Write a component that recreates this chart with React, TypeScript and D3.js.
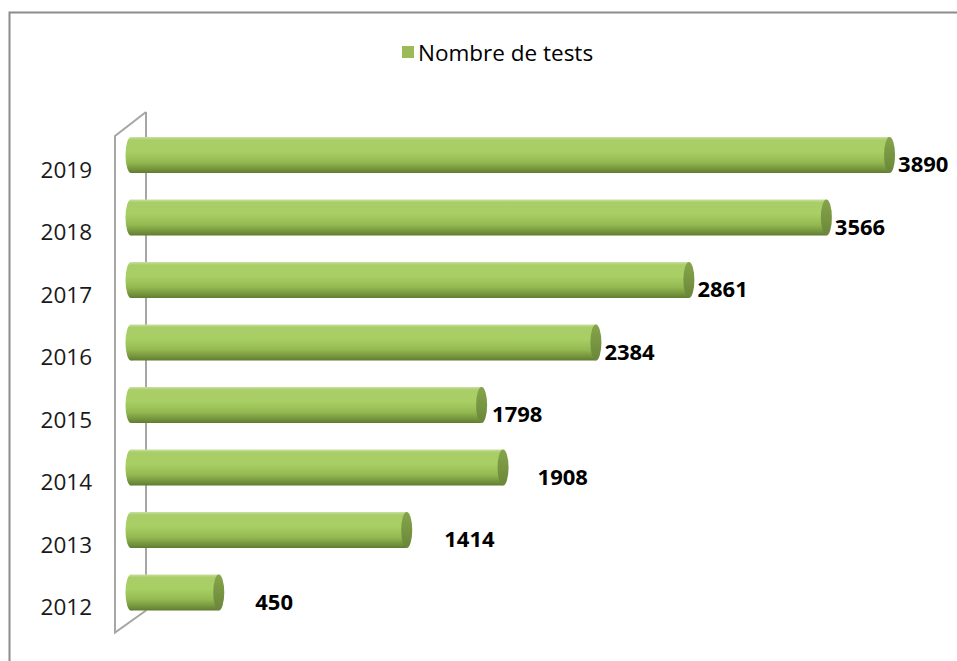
import * as d3 from "d3";
import React from "react";

const years = ["2019", "2018", "2017", "2016", "2015", "2014", "2013", "2012"];
const tests = [3890, 3566, 2861, 2384, 1798, 1908, 1414, 450];
// Excel pushed some labels further out in its 3D layout
const labelGap = [3, 3, 3, 3, 5, 29, 32, 31];
const seriesName = "Nombre de tests";

const W = 957, H = 661;
const font = "'Open Sans', 'Noto Sans', sans-serif";

const App = () => {
  const x = d3.scaleLinear().domain([0, 4000]).range([131, 911]);
  const y = d3.scalePoint<string>().domain(years).range([123.75, 623.75]).padding(0.5);
  const barH = 36;
  const rx = 5.5;
  const x0 = x(0);
  const firstY = y(years[0])!;
  const lastY = y(years[years.length - 1])!;

  const backX = x0 + 15, frontX = x0 - 16;
  const wallTop = firstY - barH / 2 - 25;
  const wallBottom = lastY + barH / 2;

  return (
    <svg width={W} height={H} style={{ position: "absolute", left: 0, top: 0 }}>
      <defs>
        <linearGradient id="cyl" x1="0" y1="0" x2="0" y2="1">
          <stop offset="0" stopColor="#c9e0a0" />
          <stop offset="0.08" stopColor="#a9cd68" />
          <stop offset="0.4" stopColor="#a8cf64" />
          <stop offset="0.7" stopColor="#94b951" />
          <stop offset="0.92" stopColor="#6f8e3a" />
          <stop offset="1" stopColor="#5f7c30" />
        </linearGradient>
        <linearGradient id="cap" x1="0" y1="0" x2="0" y2="1">
          <stop offset="0" stopColor="#86a54a" />
          <stop offset="1" stopColor="#6a863a" />
        </linearGradient>
      </defs>
      <rect x={W * 0} y={0} width={W} height={H} fill="#fff" />
      <rect x={9.5} y={12.5} width={W + 20} height={H + 20} fill="none" stroke="#8c8c8c" strokeWidth={2} />

      {/* legend */}
      <rect x={402} y={46} width={12} height={12} fill="#9bbb59" />
      <text x={418} y={52} dominantBaseline="central" fontFamily={font} fontSize={22.5} fill="#000">
        {seriesName}
      </text>

      {/* 3D wall */}
      <g fill="none" stroke="#a6a6a6" strokeWidth={2}>
        <line x1={backX} y1={wallTop} x2={backX} y2={wallBottom} />
        <polyline points={`${backX},${wallTop} ${frontX},${wallTop + 24} ${frontX},${wallBottom + 22} ${backX},${wallBottom}`} />
      </g>

      {years.map((yr, i) => {
        const cy = y(yr)!;
        const xe = x(tests[i]);
        return (
          <g key={yr}>
            <text x={92} y={cy + 14} textAnchor="end" dominantBaseline="central" fontFamily={font} fontSize={22.5} fill="#1a1a1a">
              {yr}
            </text>
            <ellipse cx={x0} cy={cy} rx={rx} ry={barH / 2} fill="url(#cyl)" />
            <rect x={x0} y={cy - barH / 2} width={xe - x0} height={barH} fill="url(#cyl)" />
            <ellipse cx={xe} cy={cy} rx={rx} ry={barH / 2} fill="url(#cap)" />
            <text x={xe + rx + labelGap[i]} y={cy + 8} dominantBaseline="central" fontFamily={font} fontWeight="bold" fontSize={22} fill="#000">
              {tests[i]}
            </text>
          </g>
        );
      })}
    </svg>
  );
};

export default App;
